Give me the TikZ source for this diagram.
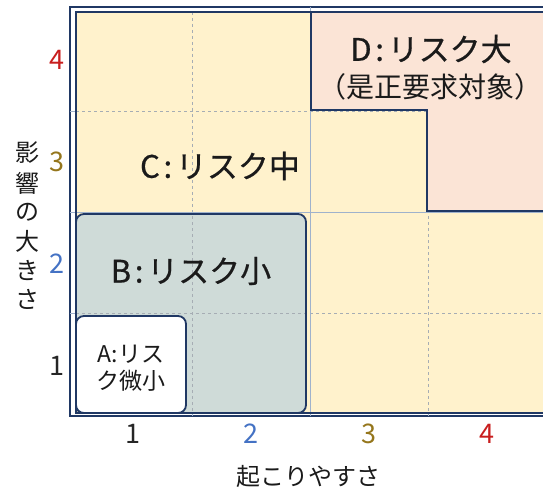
\documentclass[tikz,border=0pt]{standalone}
\usepackage{fontspec}
\setmainfont{Noto Sans CJK JP}
\newfontfamily\medfont[FakeBold=0.6]{Noto Sans CJK JP}
\definecolor{navy}{HTML}{203864}
\definecolor{yfill}{HTML}{FFF2CC}
\definecolor{pfill}{HTML}{FBE4D6}
\definecolor{bfill}{HTML}{CFDBD8}
\definecolor{gridd}{HTML}{A6ADB4}
\definecolor{grids}{HTML}{9FB2CC}
\definecolor{txt}{HTML}{1A1A1A}
\definecolor{cred}{HTML}{C81E1E}
\definecolor{cbrown}{HTML}{95761C}
\definecolor{cblue}{HTML}{4472C4}
\definecolor{cdark}{HTML}{262626}
\newcommand{\clsp}{\kern0.12em:\kern0.12em}
\tikzset{
  frameline/.style={draw=navy, line width=1.6pt},
  dgrid/.style={draw=gridd, line width=0.7pt, dash pattern=on 3pt off 3pt},
  sgrid/.style={draw=grids, line width=0.8pt},
  zonebox/.style={draw=navy, line width=1.8pt, rounded corners=8pt},
  bigtxt/.style={text=txt, font=\medfont\fontsize{31}{34}\selectfont, inner sep=0pt},
  midtxt/.style={text=txt, font=\fontsize{28}{30}\selectfont, inner sep=0pt},
  atxt/.style={text=txt, font=\fontsize{23}{27}\selectfont, inner sep=0pt, align=center},
  ticklab/.style={font=\fontsize{27}{28}\selectfont, inner sep=0pt},
  axtitle/.style={text=txt, font=\fontsize{24}{26}\selectfont, inner sep=0pt},
}
\begin{document}
\begin{tikzpicture}[x=1pt,y=-1pt]
\useasboundingbox (0,0) rectangle (543,489);
\clip (0,0) rectangle (543,489);
% outer frame
\draw[frameline] (70,7) rectangle (560,416);
% inner yellow field
\fill[yfill] (76,12) rectangle (560,413);
% B zone
\fill[bfill, rounded corners=8pt] (76,214) rectangle (306,413);
% grid
\draw[dgrid] (192,12) -- (192,413);
\draw[dgrid] (428,12) -- (428,413);
\draw[dgrid] (76,111) -- (560,111);
\draw[dgrid] (76,313) -- (560,313);
\draw[sgrid] (310,7) -- (310,416);
\draw[sgrid] (70,212) -- (560,212);
\draw[sgrid] (70,111) -- (76,111);
\draw[sgrid] (70,313) -- (76,313);
\draw[sgrid] (192,413) -- (192,416);
\draw[sgrid] (428,413) -- (428,416);
% B zone border
\draw[zonebox] (76,214) rectangle (306,413);
% D zone
\draw[draw=navy, line width=1.8pt, fill=pfill] (311,12) -- (311,110) -- (427,110) -- (427,211) -- (560,211) -- (560,12) -- cycle;
% A zone
\draw[zonebox, fill=white] (76,316) rectangle (186,413);
% inner frame border
\draw[draw=navy, line width=1.4pt] (76,12) rectangle (560,413);
% zone labels
\node[bigtxt] (zc) at (220,166) {C\clsp リスク中};
\node[bigtxt] (zd) at (431,49) {D\clsp リスク大};
\node[midtxt] (zd2) at (430,87) {（是正要求対象）};
\node[bigtxt] (zb) at (191,271) {B\clsp リスク小};
\node[atxt] (za) at (131,368) {A:リス\\ク微小};
% y ticks
\node[ticklab, text=cred] (y4) at (57,60) {4};
\node[ticklab, text=cbrown] (y3) at (57,162) {3};
\node[ticklab, text=cblue] (y2) at (57,264) {2};
\node[ticklab, text=cdark] (y1) at (57,366) {1};
% x ticks
\node[ticklab, text=cdark] (x1) at (133,434) {1};
\node[ticklab, text=cblue] (x2) at (251,434) {2};
\node[ticklab, text=cbrown] (x3) at (369,434) {3};
\node[ticklab, text=cred] (x4) at (487,434) {4};
% axis titles
\node[axtitle] (xt) at (308,476) {起こりやすさ};
\node[axtitle] (yt1) at (27,153) {影};
\node[axtitle] (yt2) at (27,183) {響};
\node[axtitle] (yt3) at (27,212) {の};
\node[axtitle] (yt4) at (27,241) {大};
\node[axtitle] (yt5) at (27,270) {き};
\node[axtitle] (yt6) at (27,299) {さ};
\end{tikzpicture}
\end{document}
